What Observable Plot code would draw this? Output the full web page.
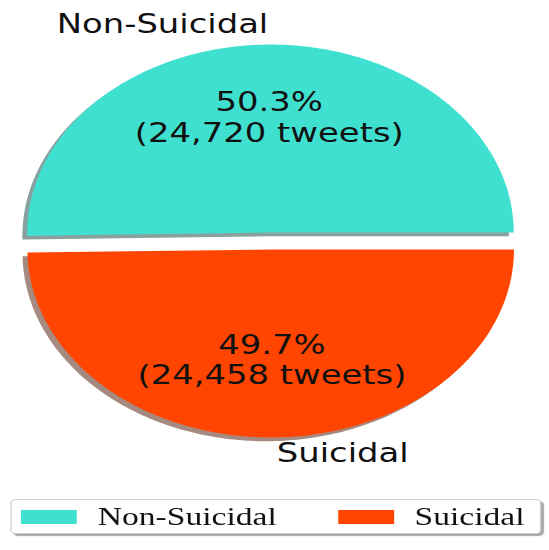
<!DOCTYPE html>
<html>
<head>
<meta charset="utf-8">
<script src="https://cdn.jsdelivr.net/npm/d3@7"></script>
<script src="https://cdn.jsdelivr.net/npm/@observablehq/plot@0.6"></script>
<style>
  html, body { margin: 0; padding: 0; background: #fff; overflow: hidden; }
  #wrap { position: relative; width: 422px; height: 550px; transform-origin: 0 0; transform: scaleX(1.3009); }
  #legend { position: absolute; left: 7.7px; top: 499px; width: 406px; height: 33px;
            border: 1px solid #cfcfcf; border-radius: 4px; background: #fff;
            box-shadow: 2px 2px 1px rgba(0,0,0,0.35);
            font-family: "Liberation Serif", "DejaVu Serif", serif; font-size: 25.8px; color: #111; }
  .item { position: absolute; top: 0; height: 33px; display: flex; align-items: center; }
  .sw { width: 43px; height: 14px; margin-right: 16px; }
</style>
</head>
<body>
<div id="wrap"><div id="chart"></div><div id="legend"></div></div>
<script>
// ---- data ----
const categories = ["Non-Suicidal", "Suicidal"];
const tweets = [24720, 24458];
const colors = ["#40E0D0", "#FF4500"];

// ---- pie geometry (matplotlib-like: start at 0°, counter-clockwise) ----
const explode = 0.045, labelDistance = 1.1, pctDistance = 0.6, shadowOff = 0.02;
const total = d3.sum(tweets);
let acc = 0;
const slices = categories.map((c, i) => {
  const frac = tweets[i] / total;
  const t1 = acc * 360, t2 = (acc + frac) * 360;
  acc += frac;
  const mid = (t1 + t2) / 2 * Math.PI / 180;
  const cx = explode * Math.cos(mid), cy = explode * Math.sin(mid);
  return {category: c, tweets: tweets[i], pct: frac * 100, color: colors[i], t1, t2, mid, cx, cy};
});

const wedge = [], shadow = [];
for (const s of slices) {
  const pts = [[s.cx, s.cy]];
  const n = Math.ceil(s.t2 - s.t1);
  for (let k = 0; k <= n; k++) {
    const t = (s.t1 + (s.t2 - s.t1) * k / n) * Math.PI / 180;
    pts.push([s.cx + Math.cos(t), s.cy + Math.sin(t)]);
  }
  pts.push([s.cx, s.cy]);
  const c = d3.rgb(s.color);
  const shade = d3.rgb(c.r * 0.3, c.g * 0.3, c.b * 0.3).formatHex();
  pts.forEach(([x, y]) => {
    wedge.push({x, y, category: s.category, fill: s.color});
    shadow.push({x: x - shadowOff, y: y - shadowOff, category: s.category, fill: shade});
  });
}

const pctLabels = slices.map(s => ({
  x: s.cx + pctDistance * Math.cos(s.mid),
  y: s.cy + pctDistance * Math.sin(s.mid),
  text: `${s.pct.toFixed(1)}%\n(${d3.format(",")(s.tweets)} tweets)`
}));
const catLabels = slices.map(s => ({
  x: s.cx + labelDistance * Math.cos(s.mid),
  y: s.cy + labelDistance * Math.sin(s.mid),
  side: Math.cos(s.mid) < 0 ? "end" : "start",
  text: s.category
}));

const W = 422, H = 495;
const chart = Plot.plot({
  width: W, height: H, margin: 0,
  x: {domain: [-207.5 / 187, (W - 207.5) / 187], axis: null},
  y: {domain: [-(H - 240.5) / 188, 240.5 / 188], axis: null},
  color: {type: "identity"},
  style: {background: "#fff"},
  marks: [
    Plot.line(shadow, {x: "x", y: "y", z: "category", fill: "fill", fillOpacity: 0.5, stroke: null, curve: "linear-closed"}),
    Plot.line(wedge, {x: "x", y: "y", z: "category", fill: "fill", stroke: null, curve: "linear-closed"}),
    Plot.text(pctLabels, {x: "x", y: "y", text: "text", fontSize: 26, lineHeight: 1.18, dy: -3,
      fontFamily: "DejaVu Sans", fill: "#111", textAnchor: "middle", lineAnchor: "middle"}),
    Plot.text(catLabels.filter(d => d.side === "end"), {x: "x", y: "y", text: "text", fontSize: 26, dy: -1,
      fontFamily: "DejaVu Sans", fill: "#111", textAnchor: "end", lineAnchor: "middle"}),
    Plot.text(catLabels.filter(d => d.side === "start"), {x: "x", y: "y", text: "text", fontSize: 26, dy: -3, dx: 3,
      fontFamily: "DejaVu Sans", fill: "#111", textAnchor: "start", lineAnchor: "middle"})
  ]
});
document.getElementById("chart").appendChild(chart);

// ---- legend ----
const legend = document.getElementById("legend");
const itemLeft = [7.5, 251];
categories.forEach((c, i) => {
  const it = document.createElement("div");
  it.className = "item";
  it.style.left = itemLeft[i] + "px";
  const sw = document.createElement("span");
  sw.className = "sw";
  sw.style.background = colors[i];
  const tx = document.createElement("span");
  tx.textContent = c;
  it.appendChild(sw); it.appendChild(tx);
  legend.appendChild(it);
});
</script>
</body>
</html>
